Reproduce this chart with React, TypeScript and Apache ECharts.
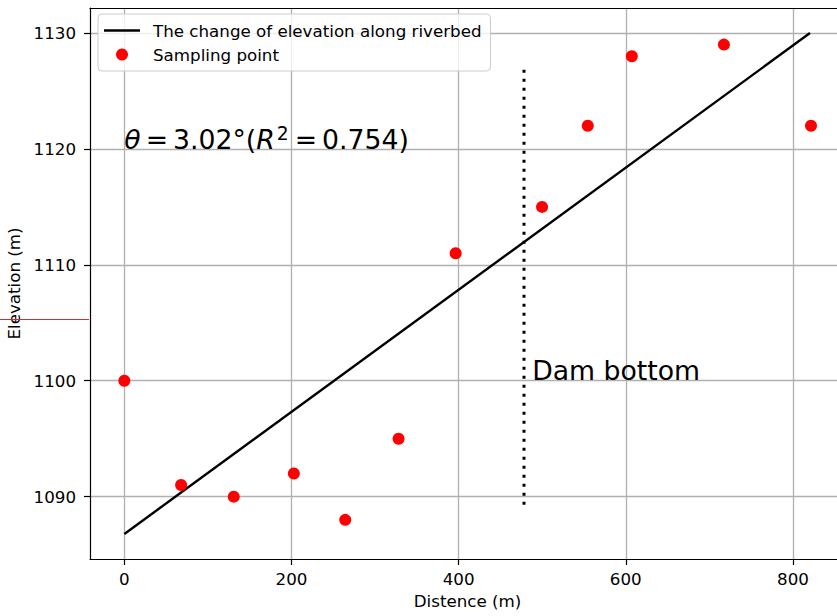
import React, { useEffect, useRef } from 'react';
import * as echarts from 'echarts';

const distance = [0, 67.9, 130.9, 202.8, 264.3, 328.1, 396.4, 499.8, 554.5, 607.2, 717.4, 821.6];
const elevation = [1100, 1091, 1090, 1092, 1088, 1095, 1111, 1115, 1122, 1128, 1129, 1122];
const fitX = [0, 820.4];
const fitY = [1086.78, 1130];
const damX = 478.2;
const damY = [1089.3, 1127.3];
const xTicks = [0, 200, 400, 600, 800];
const yTicks = [1090, 1100, 1110, 1120, 1130];
const seriesNames = ['The change of elevation along riverbed', 'Sampling point'];
const thetaPos = [0, 1120];
const damLabelPos = [488, 1100];

const FONT = 'DejaVu Sans';
const X_MIN = -41.1;
const X_MAX = 862.3;

export default function App() {
  const ref = useRef<HTMLDivElement>(null);
  useEffect(() => {
    if (!ref.current) return;
    const chart = echarts.init(ref.current, null, { renderer: 'svg' });
    const gridColor = '#b0b0b0';
    const spine = { show: true, onZero: false, lineStyle: { color: '#000000', width: 1.2 } };
    chart.setOption({
      animation: false,
      backgroundColor: '#ffffff',
      textStyle: { fontFamily: FONT },
      grid: {
        left: 90,
        top: 8,
        right: -8,
        bottom: 57,
        containLabel: false,
        outerBoundsMode: 'none',
        show: false,
      },
      legend: {
        data: [
          { name: seriesNames[0], icon: 'path://M0,0 L36,0 L36,2.4 L0,2.4 Z', itemStyle: { color: '#000000' } },
          { name: seriesNames[1], icon: 'circle', itemStyle: { color: '#ff0000', opacity: 1 } },
        ],
        orient: 'vertical',
        left: 98,
        top: 14,
        padding: [7, 9, 7, 6],
        itemWidth: 36,
        itemHeight: 12,
        itemGap: 5,
        backgroundColor: 'rgba(255,255,255,0.8)',
        borderColor: '#cccccc',
        borderWidth: 1,
        borderRadius: 4,
        textStyle: {
          fontFamily: FONT,
          fontSize: 16.7,
          color: '#000000',
          lineHeight: 19,
          padding: [0, 0, 0, 8],
        },
      },
      xAxis: [
        {
          type: 'value',
          position: 'bottom',
          min: X_MIN,
          max: X_MAX,
          name: 'Distence (m)',
          nameLocation: 'middle',
          nameGap: 33,
          nameTextStyle: { fontFamily: FONT, fontSize: 16.7, color: '#000000' },
          axisLine: spine,
          axisTick: {
            show: true,
            customValues: xTicks,
            length: 6,
            lineStyle: { color: '#000000', width: 1.2 },
          },
          axisLabel: {
            customValues: xTicks,
            formatter: (v: number) => String(v),
            fontFamily: FONT,
            fontSize: 16.7,
            color: '#000000',
            margin: 11,
          },
          splitLine: { show: true, lineStyle: { color: gridColor, width: 1.3 } },
        },
        {
          type: 'value',
          position: 'top',
          min: X_MIN,
          max: X_MAX,
          axisLine: spine,
          axisTick: { show: false },
          axisLabel: { show: false },
          splitLine: { show: false },
        },
      ],
      yAxis: {
        type: 'value',
        min: 1084.62,
        max: 1132.16,
        name: 'Elevation (m)',
        nameLocation: 'middle',
        nameGap: 57,
        nameTextStyle: { fontFamily: FONT, fontSize: 16.7, color: '#000000' },
        axisLine: spine,
        axisTick: {
          show: true,
          customValues: yTicks,
          length: 6,
          lineStyle: { color: '#000000', width: 1.2 },
        },
        axisLabel: {
          customValues: yTicks,
          formatter: (v: number) => String(v),
          fontFamily: FONT,
          fontSize: 16.7,
          color: '#000000',
          margin: 14,
        },
        splitLine: { show: true, lineStyle: { color: gridColor, width: 1.3 } },
      },
      series: [
        {
          name: seriesNames[0],
          type: 'line',
          data: fitX.map((x, i) => [x, fitY[i]]),
          symbol: 'none',
          lineStyle: { color: '#000000', width: 2.4 },
          itemStyle: { color: '#000000' },
          z: 3,
        },
        {
          name: seriesNames[1],
          type: 'scatter',
          data: distance.map((x, i) => [x, elevation[i]]),
          symbol: 'circle',
          symbolSize: 12,
          itemStyle: { color: '#ff0000', opacity: 1 },
          z: 4,
        },
        {
          name: 'dam',
          type: 'line',
          data: damY.map((y) => [damX, y]),
          symbol: 'none',
          silent: true,
          lineStyle: { color: '#000000', width: 3, type: [3, 6], cap: 'butt' },
          z: 3,
        },
        {
          name: 'thetaText',
          type: 'scatter',
          data: [thetaPos],
          symbolSize: 0,
          silent: true,
          itemStyle: { opacity: 1 },
          label: {
            show: true,
            position: 'inside',
            align: 'left',
            verticalAlign: 'middle',
            offset: [0, -9],
            color: '#000000',
            formatter: '{i|θ}{e|=}{n|3.02°(}{i|R}{s|2}{e|=}{n|0.754)}',
            rich: {
              i: { fontFamily: FONT, fontSize: 26.7, fontStyle: 'italic', color: '#000000' },
              n: { fontFamily: FONT, fontSize: 26.7, color: '#000000' },
              e: { fontFamily: FONT, fontSize: 26.7, color: '#000000', padding: [0, 5, 0, 5] },
              s: { fontFamily: FONT, fontSize: 18.7, color: '#000000', verticalAlign: 'top', padding: [0, 1, 12, 2] },
            },
          },
          z: 5,
        },
        {
          name: 'damText',
          type: 'scatter',
          data: [damLabelPos],
          symbolSize: 0,
          silent: true,
          itemStyle: { opacity: 1 },
          label: {
            show: true,
            position: 'inside',
            align: 'left',
            verticalAlign: 'middle',
            offset: [0, -10],
            formatter: 'Dam bottom',
            fontFamily: FONT,
            fontSize: 26.7,
            color: '#000000',
          },
          z: 5,
        },
      ],
      graphic: [
        {
          type: 'line',
          shape: { x1: 0, y1: 319.5, x2: 89, y2: 319.5 },
          style: { stroke: '#c83232', lineWidth: 1 },
          silent: true,
          z: 10,
        },
      ],
    });
    return () => chart.dispose();
  }, []);
  return (
    <div
      ref={ref}
      style={{ position: 'absolute', left: 0, top: 0, width: 837, height: 616 }}
    />
  );
}
